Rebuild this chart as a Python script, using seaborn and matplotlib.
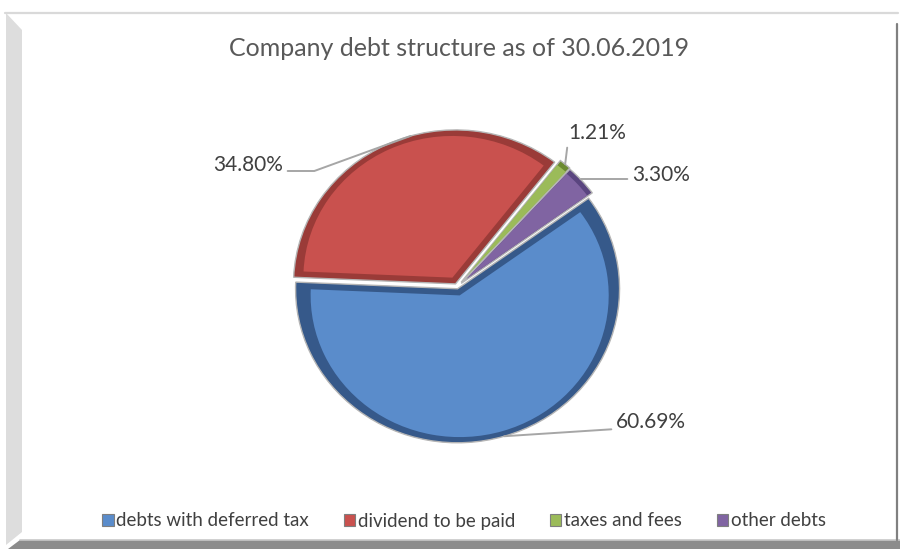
import math
import matplotlib
matplotlib.use("Agg")
import matplotlib.pyplot as plt
from matplotlib.patches import Polygon
from matplotlib.lines import Line2D
import seaborn as sns

# Debt structure shares (percent of total)
categories = ["debts with deferred tax", "dividend to be paid", "taxes and fees", "other debts"]
shares = [60.69, 34.80, 1.21, 3.30]
label_texts = [f"{v:.2f}%" for v in shares]

face_hex = ["#5a8ccb", "#c9514e", "#9bbb59", "#8064a2"]
rim_hex = ["#36598a", "#9a3b38", "#6b8a30", "#5a457f"]

sns.set_theme(style="white")
plt.rcParams["font.family"] = ["Lato", "DejaVu Sans"]
face_colors = sns.color_palette(face_hex)
rim_colors = sns.color_palette(rim_hex)

W, H = 900, 549
fig = plt.figure(figsize=(W / 100, H / 100), dpi=100)
fig.patch.set_facecolor("white")


def fx(x):
    return x / W


def fy(y):
    return 1 - y / H


# Chart frame: thin top line, bevelled left edge, dark bottom/right shadow
fig.add_artist(Line2D([fx(5), fx(898)], [fy(12.5), fy(12.5)], color="#d9d9d9", lw=1.6,
                      transform=fig.transFigure))
fig.add_artist(Polygon([(fx(6), fy(13)), (fx(22), fy(30)), (fx(22), fy(532)), (fx(6), fy(545))],
                       closed=True, facecolor="#dddddd", edgecolor="none", transform=fig.transFigure))
fig.add_artist(Polygon([(fx(8), fy(549)), (fx(20), fy(540)), (fx(900), fy(540)), (fx(900), fy(549))],
                       closed=True, facecolor="#8c8c8c", edgecolor="none", transform=fig.transFigure))
fig.add_artist(Line2D([fx(20), fx(900)], [fy(539.5), fy(539.5)], color="#c8c8c8", lw=1.2,
                      transform=fig.transFigure))
fig.add_artist(Line2D([fx(897), fx(897)], [fy(24), fy(540)], color="#808080", lw=1.6,
                      transform=fig.transFigure))

fig.text(fx(459), fy(48), "Company debt structure as of 30.06.2019", ha="center", va="center",
         fontsize=18, color="#595959")

# Pie axes: slightly squashed vertically
cx, cy = 457, 287
rx, ry = 162, 154
half_w, half_h = 185, 172
ax = fig.add_axes([fx(cx - half_w), fy(cy + half_h), 2 * half_w / W, 2 * half_h / H])

explode = [0.012, 0.022, 0.04, 0.035]
rim_wedges, _ = ax.pie(shares, colors=rim_colors, startangle=36, counterclock=False,
                       explode=explode, radius=1.0,
                       wedgeprops=dict(edgecolor="#b5b5b5", linewidth=1.0))
inner_explode = [e + 0.045 for e in explode]
face_wedges, _ = ax.pie(shares, colors=face_colors, startangle=36, counterclock=False,
                        explode=inner_explode, radius=0.92,
                        wedgeprops=dict(edgecolor="none", linewidth=0))
ax.set_aspect("auto")
ax.set_xlim(-half_w / rx, half_w / rx)
ax.set_ylim(-half_h / ry, half_h / ry)
ax.axis("off")

# Data labels with elbowed leader lines from each slice's outer arc
label_pos = [(616, 422), (283, 165), (568, 133), (632, 175)]
label_ha = ["left", "right", "left", "left"]
relpos = [(0.0, 0.15), (1.0, 0.2), (0.0, 0.1), (0.0, 0.3)]
anchor_frac = [0.50, 0.43, 0.5, 0.55]
conn = ["arc3,rad=0", "angle,angleA=0,angleB=200,rad=0",
        "arc3,rad=0", "angle,angleA=180,angleB=25,rad=0"]
for w, txt, (lx, ly), ha, rp, af, cs in zip(rim_wedges, label_texts, label_pos, label_ha,
                                            relpos, anchor_frac, conn):
    th1, th2 = w.theta1, w.theta2
    th = math.radians(th1 + (th2 - th1) * af)
    px = w.center[0] + w.r * math.cos(th)
    py = w.center[1] + w.r * math.sin(th)
    ax.annotate(txt, xy=(px, py), xycoords="data",
                xytext=(lx, H - ly), textcoords="figure pixels",
                ha=ha, va="center", fontsize=15, color="#404040",
                arrowprops=dict(arrowstyle="-", color="#a6a6a6", lw=1.4,
                                shrinkA=1, shrinkB=0, relpos=rp, connectionstyle=cs))

leg = fig.legend(face_wedges, categories, loc="center", bbox_to_anchor=(fx(464), fy(521)),
                 ncol=4, frameon=False, fontsize=13.5, handlelength=0.6, handleheight=0.6,
                 handletextpad=0.15, columnspacing=1.85, labelcolor="#404040")
for h in leg.legend_handles:
    h.set_edgecolor("#7f7f7f")
    h.set_linewidth(0.8)

fig.savefig("out.png", dpi=100, facecolor="white")
